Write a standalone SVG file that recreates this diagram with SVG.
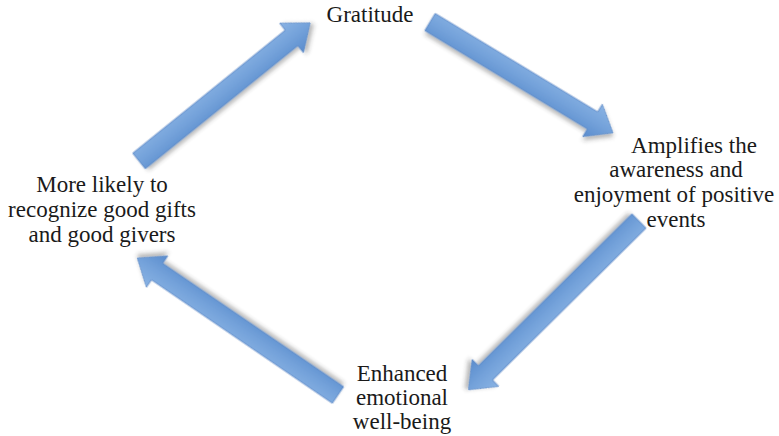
<svg xmlns="http://www.w3.org/2000/svg" width="779" height="436" viewBox="0 0 779 436">
<defs>
<linearGradient id="g" x1="0" y1="0" x2="0" y2="1">
<stop offset="0" stop-color="#8ab3e4"/>
<stop offset="0.5" stop-color="#74a2da"/>
<stop offset="1" stop-color="#5a8ccd"/>
</linearGradient>
<filter id="sh" x="-20%" y="-20%" width="140%" height="140%">
<feDropShadow dx="2" dy="3" stdDeviation="2" flood-color="#333" flood-opacity="0.35"/>
</filter>
</defs>
<style>
.t{font-family:"Liberation Serif","Times New Roman",serif;font-size:23px;fill:#1a1a1a;text-anchor:middle}
.a{fill:url(#g);stroke:#5f8cc6;stroke-width:0.8;filter:url(#sh)}
</style>
<rect width="779" height="436" fill="#fff"/>
<g id="connectors">
<path class="a" transform="translate(139,161) rotate(-38.9)" d="M0,-10 L196,-10 L196,-19 L220,0 L196,19 L196,10 L0,10 Z"/>
<path class="a" transform="translate(430,22) rotate(31.2)" d="M0,-10 L190,-10 L190,-19 L214,0 L190,19 L190,10 L0,10 Z"/>
<path class="a" transform="translate(639,221) rotate(135.3)" d="M0,-10 L216,-10 L216,-19 L240,0 L216,19 L216,10 L0,10 Z"/>
<path class="a" transform="translate(338,395) rotate(-145.7)" d="M0,-10 L219,-10 L219,-19 L243,0 L219,19 L219,10 L0,10 Z"/>
</g>
<g id="gratitude"><text class="t" x="370" y="22">Gratitude</text></g>
<g id="amplifies">
<text class="t" x="694" y="153">Amplifies the</text>
<text class="t" x="676" y="177">awareness and</text>
<text class="t" x="674" y="202">enjoyment of positive</text>
<text class="t" x="676" y="227">events</text>
</g>
<g id="enhanced">
<text class="t" x="402" y="381">Enhanced</text>
<text class="t" x="402" y="405">emotional</text>
<text class="t" x="402" y="429">well-being</text>
</g>
<g id="recognize">
<text class="t" x="102" y="192">More likely to</text>
<text class="t" x="102" y="217">recognize good gifts</text>
<text class="t" x="102" y="242">and good givers</text>
</g>
</svg>
